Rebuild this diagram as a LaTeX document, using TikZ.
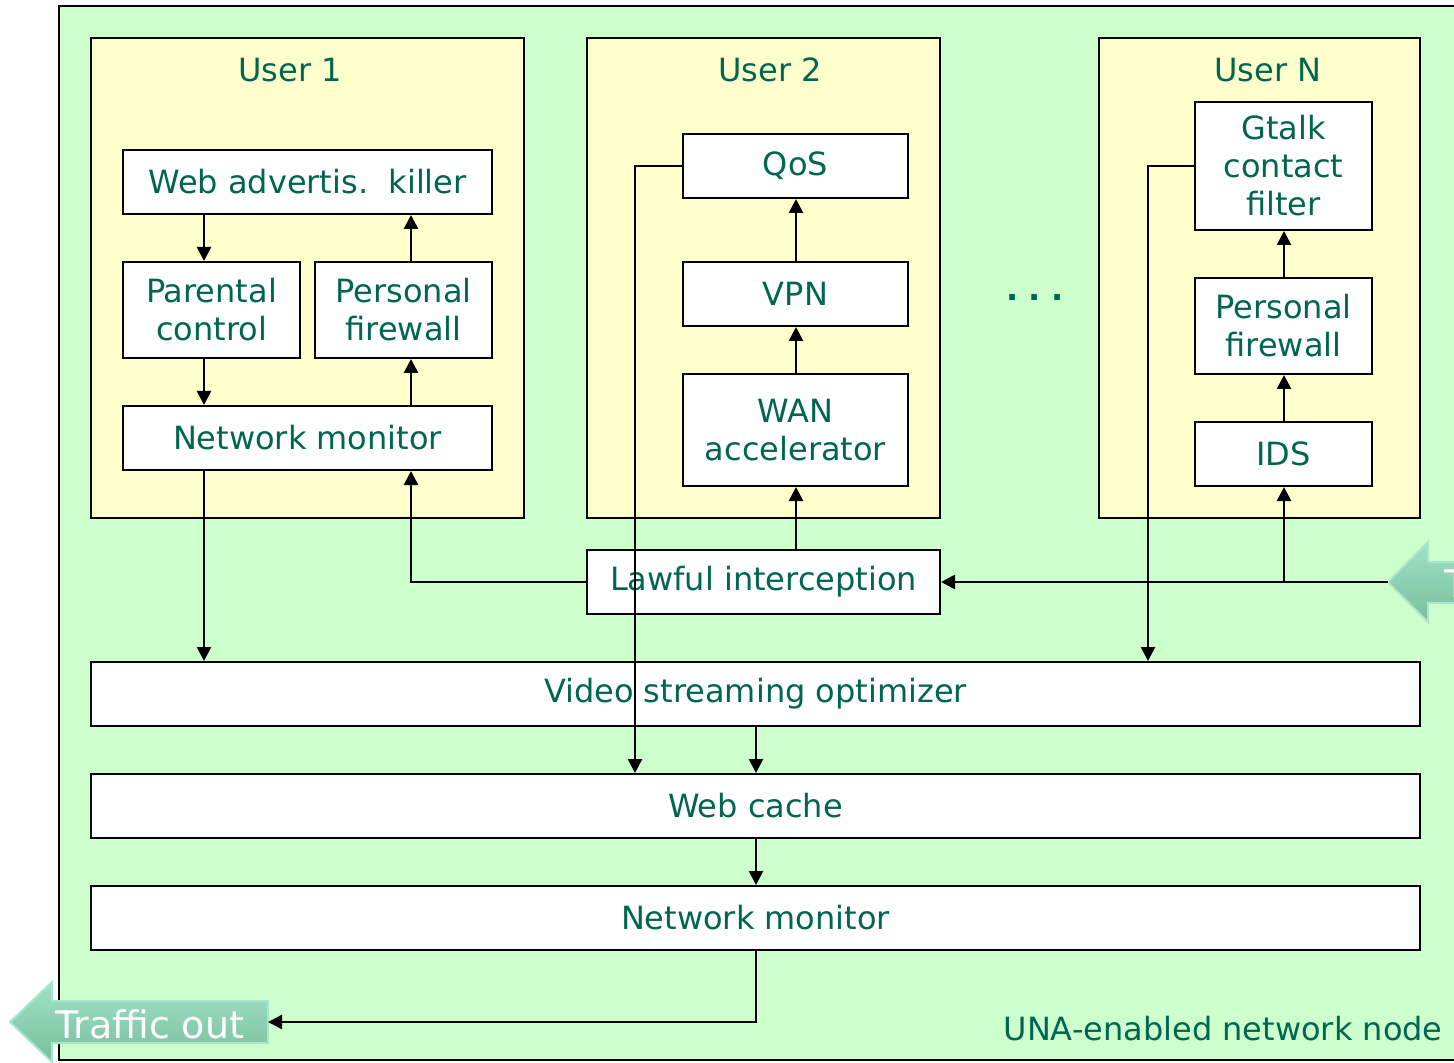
\documentclass[tikz,border=0pt]{standalone}
\usepackage{fontspec}
\setmainfont{DejaVu Sans}
\usetikzlibrary{arrows.meta}
\definecolor{nodegreen}{RGB}{204,255,204}
\definecolor{userbg}{RGB}{255,255,204}
\definecolor{txt}{RGB}{0,102,80}
\definecolor{arrtop}{RGB}{160,226,200}
\definecolor{arrbot}{RGB}{120,190,155}
\definecolor{arredge}{RGB}{170,230,205}
\tikzset{
  userbox/.style={draw=black, line width=1pt, fill=userbg},
  fbox/.style={draw=black, line width=1pt, fill=white, text=txt, align=center,
    font=\fontsize{16}{19}\selectfont, inner sep=0pt},
  lbl/.style={text=txt, font=\fontsize{16}{19}\selectfont, inner sep=0pt},
  conn/.style={line width=1.3pt, draw=black},
  arr/.style={conn, -{Triangle[length=7pt,width=7pt]}},
  bigarrow/.style={top color=arrtop, bottom color=arrbot, draw=arredge, line width=1pt},
}
\begin{document}
\begin{tikzpicture}[x=0.5pt,y=-0.5pt]
\useasboundingbox (0,0) rectangle (1454,1063);

% network node frame
\path[draw=black, line width=1pt, fill=nodegreen] (59,6) rectangle (1500,1060);
\node[lbl, anchor=base east] (una) at (1443,1040) {UNA-enabled network node};

% user areas
\node[userbox, minimum width=216.5pt, minimum height=240pt] (u1) at (307.5,278) {};
\node[userbox, minimum width=176.5pt, minimum height=240pt] (u2) at (763.5,278) {};
\node[userbox, minimum width=160.5pt, minimum height=240pt] (uN) at (1259.5,278) {};
\node[lbl] (u1t) at (290,70) {User 1};
\node[lbl] (u2t) at (770,70) {User 2};
\node[lbl] (uNt) at (1268,70) {User N};
\node[lbl] (dots) at (1035,297) {\textbf{.\,\,.\,\,.}};

% user 1 functions
\node[fbox, minimum width=184.5pt, minimum height=32pt] (wak) at (307.5,182) {Web advertis.~~killer};
\node[fbox, minimum width=88.5pt, minimum height=48pt] (pc) at (211.5,310) {Parental\\control};
\node[fbox, minimum width=88.5pt, minimum height=48pt] (pf1) at (403.5,310) {Personal\\firewall};
\node[fbox, minimum width=184.5pt, minimum height=32pt] (nm1) at (307.5,438) {Network monitor};

% user 2 functions
\node[fbox, minimum width=112.5pt, minimum height=32pt] (qos) at (795.5,166) {QoS};
\node[fbox, minimum width=112.5pt, minimum height=32pt] (vpn) at (795.5,294) {VPN};
\node[fbox, minimum width=112.5pt, minimum height=56pt] (wan) at (795.5,430) {WAN\\accelerator};

% user N functions
\node[fbox, minimum width=88.5pt, minimum height=64pt] (gt) at (1283.5,166) {Gtalk\\contact\\filter};
\node[fbox, minimum width=88.5pt, minimum height=48pt] (pfN) at (1283.5,326) {Personal\\firewall};
\node[fbox, minimum width=88.5pt, minimum height=32pt] (ids) at (1283.5,454) {IDS};

% shared functions
\node[fbox, minimum width=176.5pt, minimum height=32pt] (li) at (763.5,582) {Lawful interception};
\node[fbox, minimum width=664.5pt, minimum height=32pt] (vso) at (755.5,694) {Video streaming optimizer};
\node[fbox, minimum width=664.5pt, minimum height=32pt] (wc) at (755.5,806) {Web cache};
\node[fbox, minimum width=664.5pt, minimum height=32pt] (nm) at (755.5,918) {Network monitor};

% traffic in / out
\path[bigarrow] (10,1022) -- (52,982) -- (52,1001) -- (268,1001) -- (268,1043)
  -- (52,1043) -- (52,1062) -- cycle;
\node[text=white, font=\fontsize{19}{22}\selectfont, inner sep=0pt] (tout) at (150,1024) {Traffic out};
\coordinate (outtip) at (268,1022);
\path[bigarrow] (1388,582) -- (1428,542) -- (1428,562) -- (1700,562) -- (1700,603)
  -- (1428,603) -- (1428,622) -- cycle;
\node[text=white, font=\fontsize{19}{22}\selectfont, inner sep=0pt, anchor=west] (tin) at (1444,583) {Traffic in};
\coordinate (intip) at (1388,582);

% column positions
\coordinate (cA) at (204,0);
\coordinate (cB) at (411,0);
\coordinate (cC) at (796,0);
\coordinate (cD) at (1284,0);
\coordinate (cE) at (635,0);
\coordinate (cF) at (1148,0);
\coordinate (cG) at (756,0);

% connectors, user 1
\draw[arr] (wak.south -| cA) -- (pc.north -| cA);
\draw[arr] (pc.south -| cA) -- (nm1.north -| cA);
\draw[arr] (nm1.north -| cB) -- (pf1.south -| cB);
\draw[arr] (pf1.north -| cB) -- (wak.south -| cB);
\draw[arr] (nm1.south -| cA) -- (vso.north -| cA);
\draw[arr] (li.west) -| (nm1.south -| cB);

% connectors, user 2
\draw[arr] (li.north -| cC) -- (wan.south -| cC);
\draw[arr] (wan.north -| cC) -- (vpn.south -| cC);
\draw[arr] (vpn.north -| cC) -- (qos.south -| cC);
\draw[arr] (qos.west) -| (wc.north -| cE);

% connectors, user N
\draw[arr] (intip) -- (li.east);
\draw[arr] (intip -| cD) -- (ids.south -| cD);
\draw[arr] (ids.north -| cD) -- (pfN.south -| cD);
\draw[arr] (pfN.north -| cD) -- (gt.south -| cD);
\draw[arr] (gt.west) -| (vso.north -| cF);

% shared chain
\draw[arr] (vso.south -| cG) -- (wc.north -| cG);
\draw[arr] (wc.south -| cG) -- (nm.north -| cG);
\draw[arr] (nm.south -| cG) |- (outtip);
\end{tikzpicture}
\end{document}
